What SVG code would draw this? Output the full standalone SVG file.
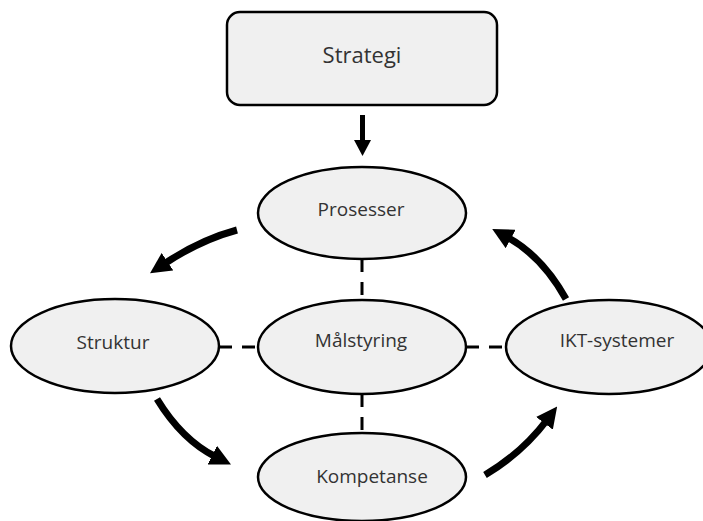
<svg xmlns="http://www.w3.org/2000/svg" width="703" height="521" viewBox="0 0 703 521">
  <style>
    .node { fill: #f0f0f0; stroke: #000; stroke-width: 2.5; }
    .label { font-family: "Open Sans", "Liberation Sans", sans-serif; font-size: 19px; fill: #333; text-anchor: middle; }
    .dash { stroke: #000; stroke-width: 3; stroke-dasharray: 13 10; fill: none; }
    .flow { stroke: #000; stroke-width: 7; fill: none; marker-end: url(#head); }
  </style>
  <defs>
    <marker id="head" viewBox="0 0 10 10" markerUnits="userSpaceOnUse" markerWidth="21" markerHeight="21" refX="2" refY="5" orient="auto">
      <path d="M0,0 L10,5 L0,10 z" fill="#000"/>
    </marker>
  </defs>
  <rect width="703" height="521" fill="#fff"/>

  <g id="connectors">
    <!-- Strategi to Prosesser -->
    <line x1="362.5" y1="115" x2="362.5" y2="141" stroke="#000" stroke-width="5"/>
    <polygon points="354,140 371,140 362.5,156" fill="#000"/>
    <!-- dashed links around Målstyring -->
    <line class="dash" x1="219" y1="347" x2="258" y2="347"/>
    <line class="dash" x1="466" y1="347" x2="506" y2="347"/>
    <line class="dash" x1="362" y1="259" x2="362" y2="300"/>
    <line class="dash" x1="362" y1="394" x2="362" y2="433"/>
    <!-- cycle arrows -->
    <path class="flow" d="M237,230 Q200,240 164,264"/>
    <path class="flow" d="M157,399 Q182,440 216,457"/>
    <path class="flow" d="M485,475 Q522,453 547,420"/>
    <path class="flow" d="M566,299 Q542,256 507,237"/>
  </g>

  <g id="strategi">
    <rect class="node" x="227" y="12" width="270" height="93" rx="13"/>
    <text class="label" x="362" y="63" style="font-size:22px">Strategi</text>
  </g>
  <g id="prosesser">
    <ellipse class="node" cx="362" cy="213" rx="104" ry="46"/>
    <text class="label" x="361" y="216">Prosesser</text>
  </g>
  <g id="struktur">
    <ellipse class="node" cx="115" cy="346" rx="104" ry="47"/>
    <text class="label" x="113" y="349">Struktur</text>
  </g>
  <g id="malstyring">
    <ellipse class="node" cx="362" cy="347" rx="104" ry="47"/>
    <text class="label" x="361" y="347">Målstyring</text>
  </g>
  <g id="ikt-systemer">
    <ellipse class="node" cx="609" cy="347" rx="103" ry="47"/>
    <text class="label" x="617" y="347">IKT-systemer</text>
  </g>
  <g id="kompetanse">
    <ellipse class="node" cx="362" cy="477" rx="104" ry="44"/>
    <text class="label" x="372" y="483">Kompetanse</text>
  </g>
</svg>
